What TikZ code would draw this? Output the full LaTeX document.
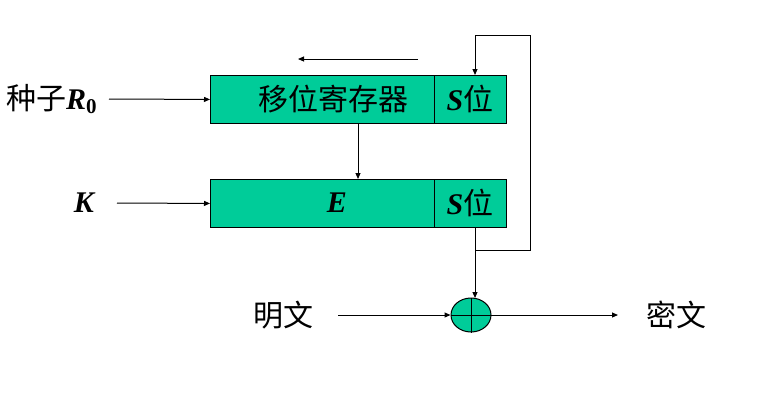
\documentclass[tikz,border=0pt]{standalone}
\usepackage{fontspec}
\setmainfont{Liberation Serif}
\newfontfamily\cjk{Noto Sans CJK SC}
\newcommand{\latbi}[1]{{\rmfamily\bfseries\itshape #1}}
\usetikzlibrary{arrows.meta,shapes.geometric}
\definecolor{boxgreen}{RGB}{0,204,153}
\begin{document}
\begin{tikzpicture}[x=1pt,y=-1pt,
  box/.style={draw=black,fill=boxgreen,line width=0.9pt,inner sep=0pt},
  lbl/.style={inner sep=0pt,font=\cjk\fontsize{30}{32}\selectfont},
  conn/.style={line width=1pt,-{Triangle[length=6pt,width=5pt]}},
  wire/.style={line width=1pt}]
\useasboundingbox (0,0) rectangle (761,416);
% top register
\node[box,minimum width=224pt,minimum height=48pt,anchor=north west] (reg) at (210,75) {};
\node[box,minimum width=72pt,minimum height=48pt,anchor=north west] (regs) at (434,75) {};
\node[lbl] (regt) at (333,99) {移位寄存器};
\node[lbl] (regst) at (470,99) {\latbi{S}位};
% bottom E
\node[box,minimum width=224pt,minimum height=48pt,anchor=north west] (e) at (210,179) {};
\node[box,minimum width=72pt,minimum height=48pt,anchor=north west] (es) at (434,179) {};
\node[lbl] (et) at (337,203) {\latbi{E}};
\node[lbl] (est) at (470,203) {\latbi{S}位};
% inputs
\node[lbl,anchor=west] (seed) at (6,99) {种子\latbi{R}\raisebox{-0.3ex}{\rmfamily\bfseries\fontsize{21}{22}\selectfont 0}};
\node[lbl] (k) at (84,203) {\latbi{K}};
\coordinate (seedend) at (109,99);
\coordinate (kend) at (117,203);
\draw[conn] (seedend) -- (reg.west);
\draw[conn] (kend) -- (e.west);
% shift arrow
\coordinate (sa) at (418,59);
\coordinate (sb) at (298,59);
\draw[conn] (sa) -- (sb);
% register to E
\draw[conn] (reg.south -| 358,0) -- (e.north -| 358,0);
% xor
\node[draw=black,fill=boxgreen,ellipse,line width=1pt,minimum width=40pt,minimum height=34pt,inner sep=0pt] (xor) at (471,315) {};
\draw[line width=1pt] (xor.north) -- (xor.south) (xor.west) -- (xor.east);
% feedback loop
\coordinate (f1) at (475,35);
\coordinate (f2) at (530,35);
\coordinate (f3) at (530,250);
\coordinate (f4) at (475,250);
\draw[wire] (f4) -- (f3) -- (f2) -- (f1);
\draw[conn] (f1) -- (475,75);
\draw[conn] (475,227) -- (475,298);
% plaintext / ciphertext
\node[lbl] (pt) at (283,315) {明文};
\node[lbl] (ct) at (676,315) {密文};
\coordinate (ptend) at (338,315);
\coordinate (ctend) at (618,315);
\draw[conn] (ptend) -- (xor.west);
\draw[conn] (xor.east) -- (ctend);
\end{tikzpicture}
\end{document}
